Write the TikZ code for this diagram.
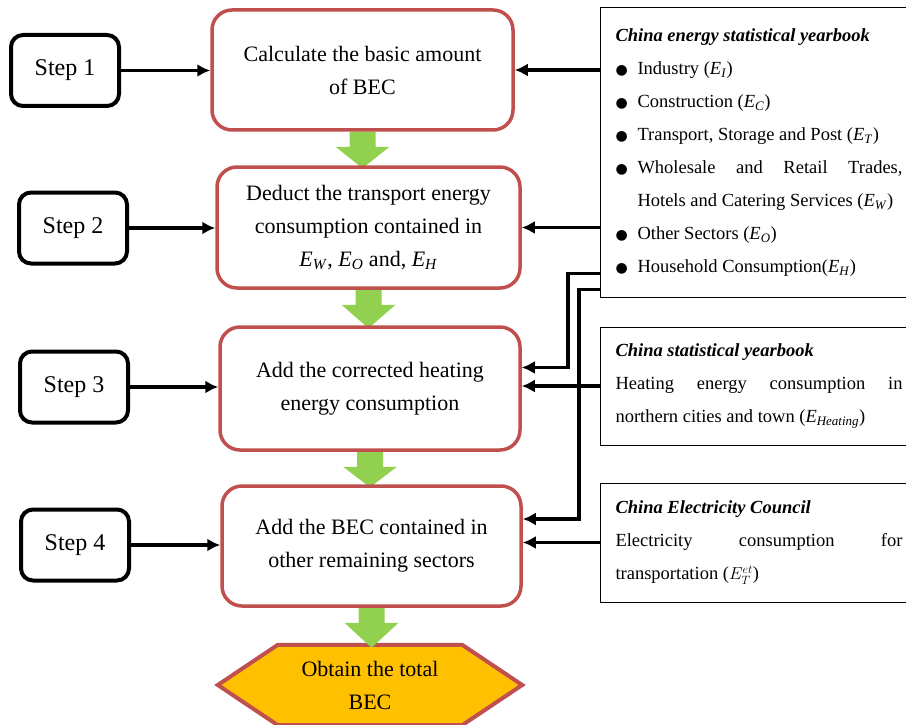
\documentclass[tikz,border=0pt]{standalone}
\usepackage{fontspec}
\setmainfont{Liberation Serif}
\newfontfamily\symfont{DejaVu Sans}
\usetikzlibrary{arrows.meta,calc,backgrounds}

\definecolor{boxred}{HTML}{C0504D}
\definecolor{arrowgreen}{HTML}{92D050}
\definecolor{endfill}{HTML}{FFC000}

\newcommand{\Esub}[1]{\textit{E}\textsubscript{\textit{#1}}}
\newcommand{\bul}{\makebox[22pt][l]{\symfont\fontsize{14}{14}\selectfont ●}}

\tikzset{
  stepbox/.style={draw, line width=4pt, rounded corners=12pt,
    minimum width=108pt, minimum height=71pt,
    font=\fontsize{24}{28}\selectfont},
  mainbox/.style={draw=boxred, line width=3.5pt, rounded corners=20pt,
    align=center, font=\fontsize{22}{33}\selectfont},
  srcbox/.style={draw, line width=1pt, anchor=west, inner xsep=15pt,
    text width=287pt, align=justify, font=\fontsize{18.5}{33}\selectfont,
    execute at begin node={\parindent=0pt}},
  endnode/.style={minimum width=304pt, minimum height=80pt, align=center,
    font=\fontsize{22}{33}\selectfont},
  conn/.style={line width=3.5pt, -{Latex[length=13pt,width=13pt]}}
}

\begin{document}
\begin{tikzpicture}[x=1pt,y=-1pt]
\useasboundingbox (0,0) rectangle (906,725);

% the four calculation steps
\node[mainbox, minimum width=301pt, minimum height=120pt] (m1) at (362.5,70)
  {Calculate the basic amount\\of BEC};
\node[mainbox, minimum width=303pt, minimum height=121pt] (m2) at (368.5,227.5)
  {Deduct the transport energy\\consumption contained in\\\Esub{W}, \Esub{O} and, \Esub{H}};
\node[mainbox, minimum width=300pt, minimum height=123pt] (m3) at (370,388.5)
  {Add the corrected heating\\energy consumption};
\node[mainbox, minimum width=299pt, minimum height=120pt] (m4) at (371.5,546)
  {Add the BEC contained in\\other remaining sectors};
\node[endnode] (fin) at (370,685) {Obtain the total\\BEC};

\foreach \i/\x/\y in {1/65/70.5, 2/73/228, 3/74/387, 4/75/545} {
  \node[stepbox] (s\i) at (\x,\y) {Step \i};
}

\foreach \i in {1,...,4} {
  \draw[conn] (s\i.east) -- (s\i.east -| m\i.west);
}

% data sources
\node[srcbox, minimum height=289pt] (src1) at (600,152.5) {%
  \textbf{\textit{China energy statistical yearbook}}\par
  \bul Industry (\Esub{I})\par
  \bul Construction (\Esub{C})\par
  \bul Transport, Storage and Post (\Esub{T})\par
  \hangindent=22pt\bul Wholesale and Retail Trades,\linebreak Hotels and Catering Services (\Esub{W})\par
  \bul Other Sectors (\Esub{O})\par
  \bul Household Consumption(\Esub{H})};
\node[srcbox, minimum height=118pt] (src2) at (600,386) {%
  \textbf{\textit{China statistical yearbook}}\par
  Heating energy consumption in\linebreak northern cities and town (\textit{E}\textsubscript{\textit{Heating}})};
\node[srcbox, minimum height=119pt] (src3) at (600,542.5) {%
  \textbf{\textit{China Electricity Council}}\par
  Electricity consumption for\linebreak transportation ($E_T^{et}$)};

\coordinate (e1) at ($(src1.south west)+(0,-24)$);
\coordinate (e2) at ($(src1.south west)+(0,-8)$);

\draw[conn] (src1.west |- m1.east) -- (m1.east);
\draw[conn] (src1.west |- m2.east) -- (m2.east);
\draw[conn] (e1) -- ++(-32,0) |- ($(m3.east)+(0,-21)$);
\draw[conn] (e2) -- ++(-21,0) |- ($(m4.east)+(0,-27)$);
\draw[conn] (src2.west) -- (src2.west -| m3.east);
\draw[conn] (src3.west) -- (src3.west -| m4.east);

\begin{scope}[on background layer]
\draw[draw=boxred, line width=4pt, fill=endfill, line join=miter]
  (fin.west) -- ($(fin.north west)+(60,0)$) -- ($(fin.north east)+(-60,0)$)
  -- (fin.east) -- ($(fin.south east)+(-60,0)$) -- ($(fin.south west)+(60,0)$) -- cycle;
\foreach \a/\b in {m1/m2,m2/m3,m3/m4,m4/fin} {
  \fill[arrowgreen] ($(\a.south)+(-13,0)$) -- ++(0,15) -- ++(-14,0)
    -- ($(\a.south |- \b.north)+(0,3)$) -- ($(\a.south)+(27,15)$)
    -- ($(\a.south)+(13,15)$) -- ($(\a.south)+(13,0)$) -- cycle;
}
\end{scope}
\end{tikzpicture}
\end{document}
